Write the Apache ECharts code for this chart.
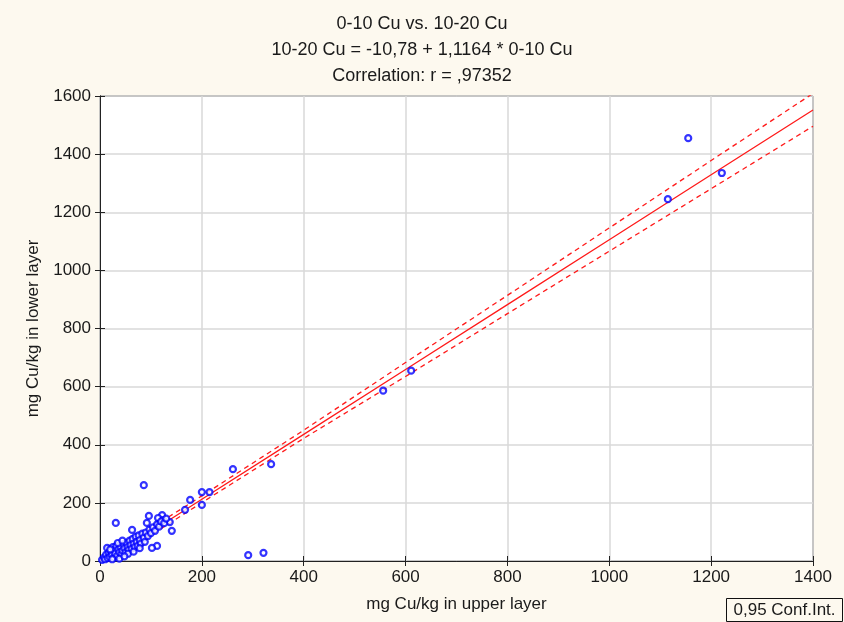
<!DOCTYPE html>
<html>
<head>
<meta charset="utf-8">
<script src="https://cdn.jsdelivr.net/npm/echarts@6/dist/echarts.min.js"></script>
<style>
  html, body { margin: 0; padding: 0; background: #fdf9ef; }
  #chart { width: 844px; height: 622px; }
</style>
</head>
<body>
<div id="chart"></div>
<script>
// points: [upper layer, lower layer] in mg Cu/kg
var cuPoints = [
    [1155, 1455], [1115, 1245], [1221, 1335], [611, 655], [556, 586],
    [336, 333], [261, 316], [291, 20], [321, 28], [86, 261],
    [200, 237], [215, 237], [177, 210], [200, 193], [167, 176],
    [141, 104], [137, 134], [122, 158], [114, 148], [96, 155],
    [92, 131], [114, 124], [124, 141], [63, 107], [112, 52],
    [102, 45], [31, 131],
    [4, 4], [8, 12], [10, 6], [12, 22], [14, 45], [15, 10], [17, 28], [19, 14],
    [21, 34], [23, 20], [25, 48], [27, 12], [28, 38], [30, 26], [32, 52],
    [34, 18], [36, 40], [38, 30], [40, 50], [42, 24], [44, 36], [46, 58],
    [48, 44], [50, 30], [52, 62], [54, 48], [56, 38], [58, 70], [60, 55],
    [62, 42], [64, 76], [66, 60], [68, 48], [70, 84], [72, 66], [74, 52],
    [76, 88], [78, 72], [80, 60], [83, 94], [86, 80], [88, 66], [90, 98],
    [94, 86], [97, 108], [100, 96], [104, 116], [108, 104], [112, 126],
    [116, 118], [120, 136], [126, 130], [130, 146], [20, 40], [35, 62],
    [44, 70], [55, 25], [66, 32], [78, 44], [24, 6], [38, 8], [48, 16]
];

// fitted line and 0,95 confidence band, read at these x values
var fitX = [0, 200, 400, 600, 800, 1000, 1200, 1400];
var fitY = [-10.8, 212.5, 435.8, 659.1, 882.3, 1105.6, 1329, 1552];
var upperY = [2, 224, 450, 683, 914, 1146, 1378, 1609];
var lowerY = [-23, 201, 422, 635, 851, 1066, 1281, 1496];

var titleLines = ['0-10 Cu vs. 10-20 Cu', '10-20 Cu = -10,78 + 1,1164 * 0-10 Cu', 'Correlation: r = ,97352'];

function pairs(xs, ys) {
    var out = [];
    for (var i = 0; i < xs.length; i++) out.push([xs[i], ys[i]]);
    return out;
}

var myChart = echarts.init(document.getElementById('chart'));
var font = 'Liberation Sans, Arial, sans-serif';
var textColor = '#1a1a1a';
var plain = function (v) { return String(v); };

var option = {
    backgroundColor: '#fdf9ef',
    animation: false,
    title: {
        text: titleLines.join('\n'),
        left: 'center',
        top: 6,
        textStyle: {
            fontFamily: font,
            fontSize: 18,
            fontWeight: 'normal',
            color: textColor,
            lineHeight: 26
        }
    },
    grid: {
        left: 100,
        right: 31,
        top: 96,
        bottom: 61,
        show: true,
        backgroundColor: '#ffffff',
        borderColor: '#222',
        borderWidth: 1
    },
    xAxis: [{
        type: 'value',
        min: 0,
        max: 1400,
        interval: 200,
        name: 'mg Cu/kg in upper layer',
        nameLocation: 'middle',
        nameGap: 35,
        nameTextStyle: {fontFamily: font, fontSize: 17, color: textColor},
        axisLine: {show: true, lineStyle: {color: '#222'}},
        axisTick: {show: true, inside: true, length: 5, lineStyle: {color: '#222'}},
        axisLabel: {fontFamily: font, fontSize: 17, color: textColor, margin: 8, formatter: plain},
        splitLine: {show: true, lineStyle: {color: '#d9d9d9', width: 1.5}}
    }, {
        type: 'value',
        position: 'top',
        min: 0,
        max: 1400,
        interval: 200,
        axisLine: {show: true, lineStyle: {color: '#222'}},
        axisTick: {show: true, inside: true, length: 5, lineStyle: {color: '#222'}},
        axisLabel: {show: false},
        splitLine: {show: false}
    }],
    yAxis: [{
        type: 'value',
        min: 0,
        max: 1600,
        interval: 200,
        name: 'mg Cu/kg in lower layer',
        nameLocation: 'middle',
        nameGap: 54,
        nameTextStyle: {fontFamily: font, fontSize: 17, color: textColor},
        axisLine: {show: true, lineStyle: {color: '#222'}},
        axisTick: {show: true, inside: true, length: 5, lineStyle: {color: '#222'}},
        axisLabel: {fontFamily: font, fontSize: 17, color: textColor, margin: 9, formatter: plain},
        splitLine: {show: true, lineStyle: {color: '#d9d9d9', width: 1.5}}
    }, {
        type: 'value',
        position: 'right',
        min: 0,
        max: 1600,
        interval: 200,
        axisLine: {show: true, lineStyle: {color: '#222'}},
        axisTick: {show: true, inside: true, length: 5, lineStyle: {color: '#222'}},
        axisLabel: {show: false},
        splitLine: {show: false}
    }],
    series: [
        {
            name: 'fit',
            type: 'line',
            data: pairs(fitX, fitY),
            showSymbol: false,
            clip: true,
            lineStyle: {color: '#ff1a1a', width: 1.3},
            z: 3
        },
        {
            name: 'upper',
            type: 'line',
            data: pairs(fitX, upperY),
            showSymbol: false,
            clip: true,
            lineStyle: {color: '#ff1a1a', width: 1.3, type: [5, 4]},
            z: 3
        },
        {
            name: 'lower',
            type: 'line',
            data: pairs(fitX, lowerY),
            showSymbol: false,
            clip: true,
            lineStyle: {color: '#ff1a1a', width: 1.3, type: [5, 4]},
            z: 3
        },
        {
            name: 'points',
            type: 'scatter',
            data: cuPoints,
            symbol: 'circle',
            symbolSize: 6,
            itemStyle: {color: '#ffffff', borderColor: '#0000ff', borderWidth: 2.2},
            z: 4
        }
    ],
    graphic: [{
        type: 'group',
        left: 726,
        top: 598,
        children: [{
            type: 'rect',
            shape: {x: 0, y: 0, width: 116, height: 23},
            style: {fill: '#fdf9ef', stroke: '#111', lineWidth: 1}
        }, {
            type: 'text',
            left: 7,
            top: 3,
            style: {text: '0,95 Conf.Int.', font: '17px ' + font, fill: textColor}
        }]
    }]
};

myChart.setOption(option);
</script>
</body>
</html>
